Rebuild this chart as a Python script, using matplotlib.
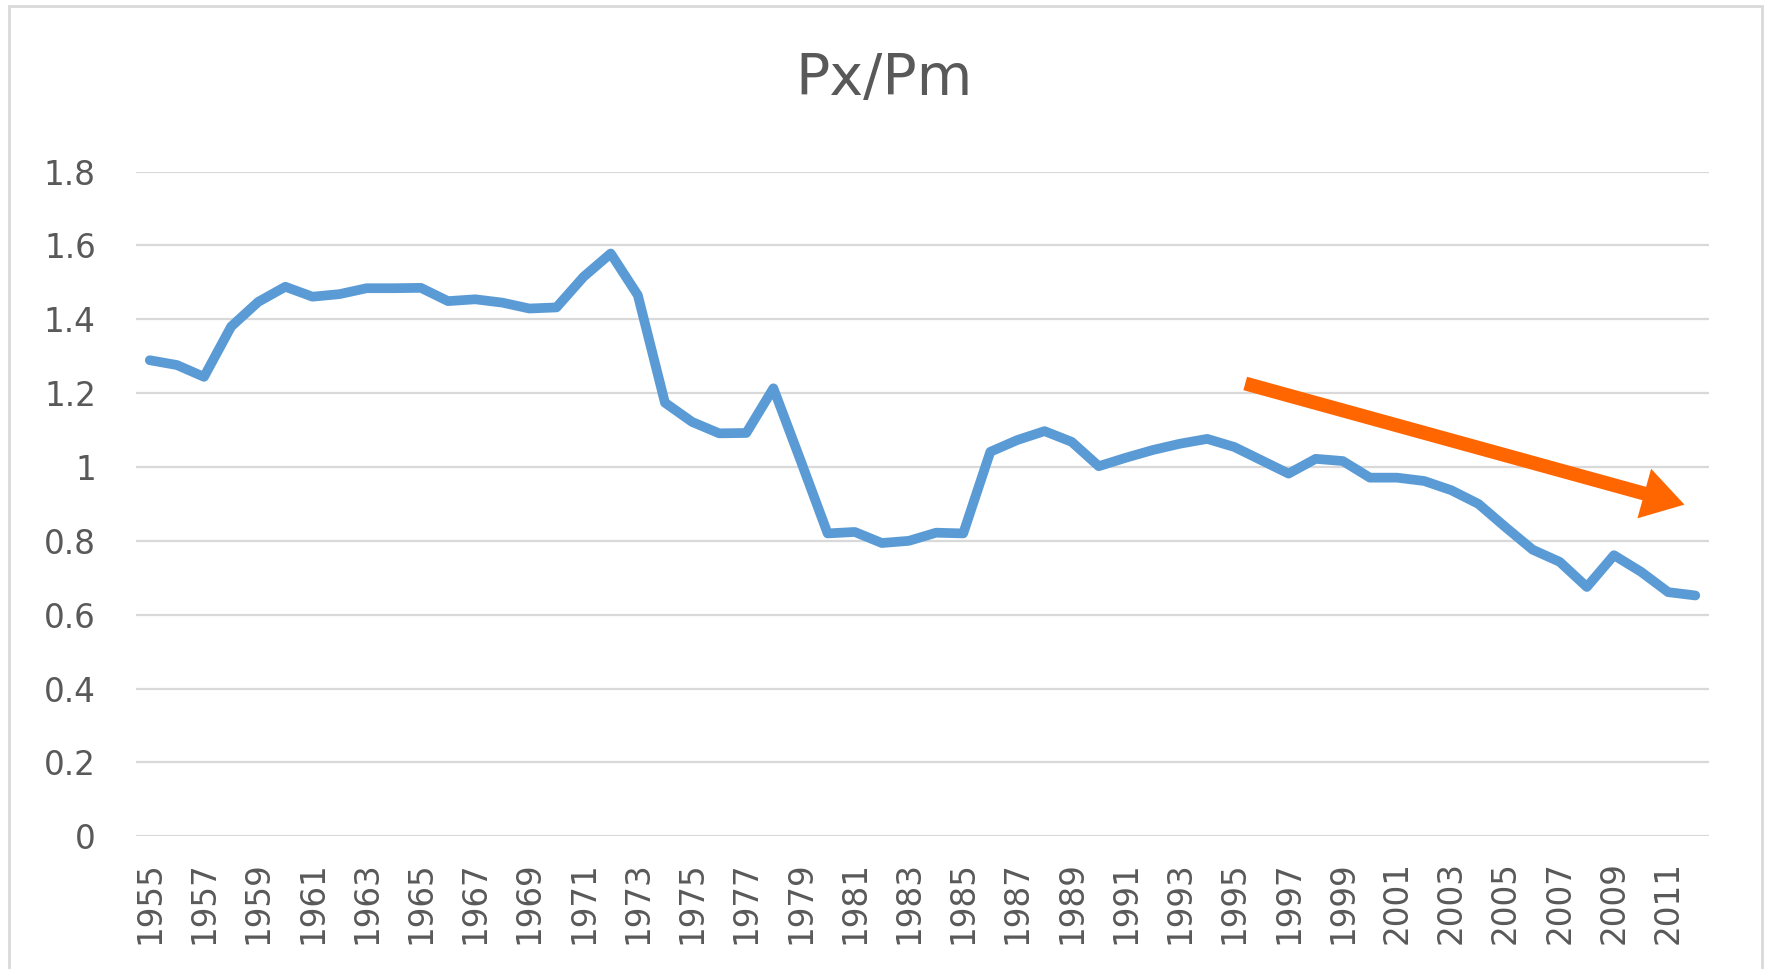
import numpy as np
import matplotlib
matplotlib.use('Agg')
import matplotlib.pyplot as plt
from matplotlib.patches import Rectangle

years = list(range(1955, 2013))
px_pm = [1.289, 1.276, 1.244, 1.380, 1.447, 1.488, 1.461, 1.468, 1.484, 1.484,
         1.485, 1.449, 1.454, 1.445, 1.429, 1.432, 1.515, 1.578, 1.465, 1.174,
         1.122, 1.091, 1.092, 1.213, 1.018, 0.820, 0.824, 0.794, 0.800, 0.822,
         0.820, 1.041, 1.073, 1.097, 1.068, 1.002, 1.025, 1.046, 1.063, 1.076,
         1.054, 1.018, 0.982, 1.022, 1.016, 0.971, 0.971, 0.962, 0.937, 0.900,
         0.837, 0.776, 0.743, 0.675, 0.761, 0.716, 0.661, 0.652]
tick_years = list(range(1955, 2012, 2))
y_ticks = [0, 0.2, 0.4, 0.6, 0.8, 1.0, 1.2, 1.4, 1.6, 1.8]
y_labels = ['0', '0.2', '0.4', '0.6', '0.8', '1', '1.2', '1.4', '1.6', '1.8']

# trend arrow (tail, tip) in data units
arrow_tail = (1995.4, 1.226)
arrow_tip = (2011.6, 0.898)

text_col = '#595959'
grid_col = '#d9d9d9'

fig = plt.figure(figsize=(17.69, 9.69), dpi=100)
ax = fig.add_axes([0.077, 0.137, 0.889, 0.686])

ax.plot(years, px_pm, color='#5b9bd5', lw=7, solid_capstyle='round',
        solid_joinstyle='round', zorder=3)

ax.annotate('', xy=arrow_tip, xytext=arrow_tail,
            arrowprops=dict(arrowstyle='simple,tail_width=1.0,head_width=3.7,head_length=3.0',
                            mutation_scale=10, color='#ff6600', lw=0,
                            shrinkA=0, shrinkB=0), zorder=4)

ax.set_xlim(1954.5, 2012.5)
ax.set_ylim(0, 1.8)
ax.set_yticks(y_ticks)
ax.set_yticklabels(y_labels)
ax.set_xticks(tick_years)
ax.set_xticklabels([str(y) for y in tick_years], rotation=90)
ax.tick_params(axis='y', length=0, pad=29, labelsize=23.5, labelcolor=text_col)
ax.tick_params(axis='x', length=0, pad=18, labelsize=23.5, labelcolor=text_col)
ax.grid(axis='y', color=grid_col, lw=1.6)
ax.set_axisbelow(True)
for s in ax.spines.values():
    s.set_visible(False)

fig.text(0.5, 0.918, 'Px/Pm', ha='center', va='center', fontsize=41, color=text_col)

fig.patches.append(Rectangle((0.005, -0.01), 0.991, 1.004, transform=fig.transFigure,
                             fill=False, edgecolor=grid_col, lw=2))

plt.savefig('out.png', dpi=100)
